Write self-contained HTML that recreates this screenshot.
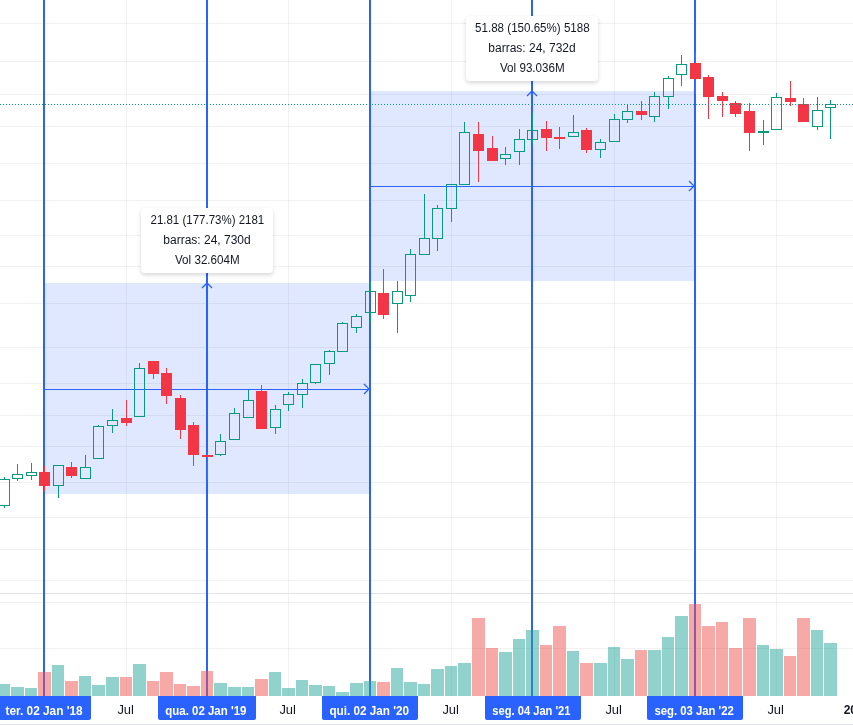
<!DOCTYPE html>
<html><head><meta charset="utf-8"><title>chart</title>
<style>
html,body{margin:0;padding:0;background:#fff;}
body{width:853px;height:725px;position:relative;overflow:hidden;font-family:"Liberation Sans",sans-serif;color:#131722;}
.tip{position:absolute;width:132px;height:65px;background:#fff;border-radius:4px;box-shadow:0 2px 4px rgba(0,0,0,0.16);font-size:12px;will-change:transform;}
.tip div{position:absolute;left:0;width:132px;text-align:center;height:20px;line-height:20px;white-space:nowrap;}
.tip span{display:inline-block;transform-origin:50% 50%;}
.tl{position:absolute;top:696px;height:24px;background:#2962ff;color:#fff;font-weight:bold;font-size:12px;line-height:31px;text-align:center;border-radius:0 0 2px 2px;white-space:nowrap;will-change:transform;}
.tl span{display:inline-block;}
.tx{position:absolute;top:696px;height:24px;font-size:12px;line-height:29px;width:60px;text-align:center;white-space:nowrap;will-change:transform;}
.tx span{display:inline-block;}
</style></head><body>
<svg width="853" height="725" viewBox="0 0 853 725" shape-rendering="crispEdges" style="position:absolute;left:0;top:0">
<rect x="0" y="23" width="853" height="1" fill="rgba(42,46,57,0.065)"/>
<rect x="0" y="61" width="853" height="1" fill="rgba(42,46,57,0.065)"/>
<rect x="0" y="94" width="853" height="1" fill="rgba(42,46,57,0.065)"/>
<rect x="0" y="126" width="853" height="1" fill="rgba(42,46,57,0.065)"/>
<rect x="0" y="163" width="853" height="1" fill="rgba(42,46,57,0.065)"/>
<rect x="0" y="200" width="853" height="1" fill="rgba(42,46,57,0.065)"/>
<rect x="0" y="235" width="853" height="1" fill="rgba(42,46,57,0.065)"/>
<rect x="0" y="266" width="853" height="1" fill="rgba(42,46,57,0.065)"/>
<rect x="0" y="303" width="853" height="1" fill="rgba(42,46,57,0.065)"/>
<rect x="0" y="347" width="853" height="1" fill="rgba(42,46,57,0.065)"/>
<rect x="0" y="383" width="853" height="1" fill="rgba(42,46,57,0.065)"/>
<rect x="0" y="415" width="853" height="1" fill="rgba(42,46,57,0.065)"/>
<rect x="0" y="446" width="853" height="1" fill="rgba(42,46,57,0.065)"/>
<rect x="0" y="482" width="853" height="1" fill="rgba(42,46,57,0.065)"/>
<rect x="0" y="517" width="853" height="1" fill="rgba(42,46,57,0.065)"/>
<rect x="0" y="549" width="853" height="1" fill="rgba(42,46,57,0.065)"/>
<rect x="0" y="580" width="853" height="1" fill="rgba(42,46,57,0.065)"/>
<rect x="0" y="602" width="853" height="1" fill="rgba(42,46,57,0.065)"/>
<rect x="0" y="648" width="853" height="1" fill="rgba(42,46,57,0.065)"/>
<rect x="126" y="0" width="1" height="593" fill="rgba(42,46,57,0.065)"/>
<rect x="126" y="594" width="1" height="102" fill="rgba(42,46,57,0.065)"/>
<rect x="288" y="0" width="1" height="593" fill="rgba(42,46,57,0.065)"/>
<rect x="288" y="594" width="1" height="102" fill="rgba(42,46,57,0.065)"/>
<rect x="451" y="0" width="1" height="593" fill="rgba(42,46,57,0.065)"/>
<rect x="451" y="594" width="1" height="102" fill="rgba(42,46,57,0.065)"/>
<rect x="614" y="0" width="1" height="593" fill="rgba(42,46,57,0.065)"/>
<rect x="614" y="594" width="1" height="102" fill="rgba(42,46,57,0.065)"/>
<rect x="776" y="0" width="1" height="593" fill="rgba(42,46,57,0.065)"/>
<rect x="776" y="594" width="1" height="102" fill="rgba(42,46,57,0.065)"/>
<rect x="0" y="593" width="853" height="1" fill="#e0e3eb"/>
<rect x="45" y="283" width="324" height="211" fill="rgba(41,98,255,0.15)"/>
<rect x="371" y="91" width="323" height="190" fill="rgba(41,98,255,0.15)"/>
<rect x="43" y="0" width="2" height="696" fill="#2962ff"/>
<rect x="206" y="0" width="2" height="696" fill="#2962ff"/>
<rect x="369" y="0" width="2" height="696" fill="#2962ff"/>
<rect x="531" y="0" width="2" height="696" fill="#2962ff"/>
<rect x="694" y="0" width="2" height="696" fill="#2962ff"/>
<rect x="45" y="389" width="324" height="1" fill="#2962ff"/>
<rect x="371" y="186" width="323" height="1" fill="#2962ff"/>
<g shape-rendering="geometricPrecision" stroke="#2962ff" stroke-width="1.25" fill="none">
<path d="M364 384 L369 389 L364 394"/>
<path d="M689 181 L694 186 L689 191"/>
<path d="M202 288 L207 283 L212 288"/>
<path d="M527 96 L532 91 L537 96"/>
</g>
<rect x="4" y="477" width="1" height="2" fill="#089981"/>
<rect x="4" y="506" width="1" height="2" fill="#089981"/>
<path fill="#089981" fill-rule="evenodd" d="M-1 479h11v27h-11z M0 480h9v25h-9z"/>
<rect x="17" y="464" width="1" height="10" fill="#089981"/>
<rect x="17" y="479" width="1" height="2" fill="#089981"/>
<path fill="#089981" fill-rule="evenodd" d="M12 474h11v5h-11z M13 475h9v3h-9z"/>
<rect x="31" y="463" width="1" height="9" fill="#089981"/>
<rect x="31" y="476" width="1" height="4" fill="#089981"/>
<path fill="#089981" fill-rule="evenodd" d="M26 472h11v4h-11z M27 473h9v2h-9z"/>
<rect x="44" y="466" width="1" height="25" fill="#f23645"/>
<rect x="39" y="472" width="11" height="14" fill="#f23645"/>
<rect x="58" y="486" width="1" height="12" fill="#089981"/>
<path fill="#089981" fill-rule="evenodd" d="M53 465h11v21h-11z M54 466h9v19h-9z"/>
<rect x="71" y="462" width="1" height="16" fill="#f23645"/>
<rect x="66" y="467" width="11" height="9" fill="#f23645"/>
<rect x="85" y="455" width="1" height="12" fill="#089981"/>
<path fill="#089981" fill-rule="evenodd" d="M80 467h11v12h-11z M81 468h9v10h-9z"/>
<rect x="98" y="425" width="1" height="1" fill="#089981"/>
<path fill="#089981" fill-rule="evenodd" d="M93 426h11v33h-11z M94 427h9v31h-9z"/>
<rect x="112" y="409" width="1" height="11" fill="#089981"/>
<rect x="112" y="426" width="1" height="7" fill="#089981"/>
<path fill="#089981" fill-rule="evenodd" d="M107 420h11v6h-11z M108 421h9v4h-9z"/>
<rect x="126" y="400" width="1" height="26" fill="#f23645"/>
<rect x="121" y="418" width="11" height="5" fill="#f23645"/>
<rect x="139" y="363" width="1" height="5" fill="#089981"/>
<path fill="#089981" fill-rule="evenodd" d="M134 368h11v49h-11z M135 369h9v47h-9z"/>
<rect x="153" y="361" width="1" height="18" fill="#f23645"/>
<rect x="148" y="361" width="11" height="13" fill="#f23645"/>
<rect x="166" y="368" width="1" height="36" fill="#f23645"/>
<rect x="161" y="373" width="11" height="23" fill="#f23645"/>
<rect x="180" y="395" width="1" height="44" fill="#f23645"/>
<rect x="175" y="398" width="11" height="32" fill="#f23645"/>
<rect x="193" y="422" width="1" height="44" fill="#f23645"/>
<rect x="188" y="425" width="11" height="30" fill="#f23645"/>
<rect x="207" y="453" width="1" height="27" fill="#f23645"/>
<rect x="202" y="455" width="11" height="2" fill="#f23645"/>
<rect x="220" y="434" width="1" height="7" fill="#089981"/>
<rect x="220" y="455" width="1" height="1" fill="#089981"/>
<path fill="#089981" fill-rule="evenodd" d="M215 441h11v14h-11z M216 442h9v12h-9z"/>
<rect x="234" y="408" width="1" height="5" fill="#089981"/>
<path fill="#089981" fill-rule="evenodd" d="M229 413h11v27h-11z M230 414h9v25h-9z"/>
<rect x="248" y="390" width="1" height="10" fill="#089981"/>
<path fill="#089981" fill-rule="evenodd" d="M243 400h11v18h-11z M244 401h9v16h-9z"/>
<rect x="261" y="385" width="1" height="44" fill="#f23645"/>
<rect x="256" y="391" width="11" height="38" fill="#f23645"/>
<rect x="275" y="405" width="1" height="4" fill="#089981"/>
<rect x="275" y="428" width="1" height="6" fill="#089981"/>
<path fill="#089981" fill-rule="evenodd" d="M270 409h11v19h-11z M271 410h9v17h-9z"/>
<rect x="288" y="392" width="1" height="2" fill="#089981"/>
<rect x="288" y="405" width="1" height="6" fill="#089981"/>
<path fill="#089981" fill-rule="evenodd" d="M283 394h11v11h-11z M284 395h9v9h-9z"/>
<rect x="302" y="379" width="1" height="4" fill="#089981"/>
<rect x="302" y="395" width="1" height="13" fill="#089981"/>
<path fill="#089981" fill-rule="evenodd" d="M297 383h11v12h-11z M298 384h9v10h-9z"/>
<rect x="315" y="383" width="1" height="1" fill="#089981"/>
<path fill="#089981" fill-rule="evenodd" d="M310 364h11v19h-11z M311 365h9v17h-9z"/>
<rect x="329" y="350" width="1" height="1" fill="#089981"/>
<rect x="329" y="364" width="1" height="11" fill="#089981"/>
<path fill="#089981" fill-rule="evenodd" d="M324 351h11v13h-11z M325 352h9v11h-9z"/>
<rect x="342" y="322" width="1" height="1" fill="#089981"/>
<path fill="#089981" fill-rule="evenodd" d="M337 323h11v29h-11z M338 324h9v27h-9z"/>
<rect x="356" y="314" width="1" height="2" fill="#089981"/>
<rect x="356" y="328" width="1" height="5" fill="#089981"/>
<path fill="#089981" fill-rule="evenodd" d="M351 316h11v12h-11z M352 317h9v10h-9z"/>
<rect x="370" y="282" width="1" height="9" fill="#089981"/>
<rect x="370" y="313" width="1" height="10" fill="#089981"/>
<path fill="#089981" fill-rule="evenodd" d="M365 291h11v22h-11z M366 292h9v20h-9z"/>
<rect x="383" y="269" width="1" height="50" fill="#f23645"/>
<rect x="378" y="293" width="11" height="22" fill="#f23645"/>
<rect x="397" y="281" width="1" height="10" fill="#089981"/>
<rect x="397" y="304" width="1" height="29" fill="#089981"/>
<path fill="#089981" fill-rule="evenodd" d="M392 291h11v13h-11z M393 292h9v11h-9z"/>
<rect x="410" y="249" width="1" height="5" fill="#089981"/>
<rect x="410" y="296" width="1" height="6" fill="#089981"/>
<path fill="#089981" fill-rule="evenodd" d="M405 254h11v42h-11z M406 255h9v40h-9z"/>
<rect x="424" y="194" width="1" height="44" fill="#089981"/>
<path fill="#089981" fill-rule="evenodd" d="M419 238h11v17h-11z M420 239h9v15h-9z"/>
<rect x="437" y="205" width="1" height="3" fill="#089981"/>
<rect x="437" y="239" width="1" height="12" fill="#089981"/>
<path fill="#089981" fill-rule="evenodd" d="M432 208h11v31h-11z M433 209h9v29h-9z"/>
<rect x="451" y="209" width="1" height="13" fill="#089981"/>
<path fill="#089981" fill-rule="evenodd" d="M446 184h11v25h-11z M447 185h9v23h-9z"/>
<rect x="464" y="122" width="1" height="10" fill="#089981"/>
<path fill="#089981" fill-rule="evenodd" d="M459 132h11v53h-11z M460 133h9v51h-9z"/>
<rect x="478" y="122" width="1" height="60" fill="#f23645"/>
<rect x="473" y="134" width="11" height="17" fill="#f23645"/>
<rect x="492" y="136" width="1" height="25" fill="#f23645"/>
<rect x="487" y="148" width="11" height="13" fill="#f23645"/>
<rect x="505" y="147" width="1" height="7" fill="#089981"/>
<rect x="505" y="159" width="1" height="6" fill="#089981"/>
<path fill="#089981" fill-rule="evenodd" d="M500 154h11v5h-11z M501 155h9v3h-9z"/>
<rect x="519" y="129" width="1" height="10" fill="#089981"/>
<rect x="519" y="152" width="1" height="13" fill="#089981"/>
<path fill="#089981" fill-rule="evenodd" d="M514 139h11v13h-11z M515 140h9v11h-9z"/>
<rect x="532" y="113" width="1" height="17" fill="#089981"/>
<rect x="532" y="140" width="1" height="5" fill="#089981"/>
<path fill="#089981" fill-rule="evenodd" d="M527 130h11v10h-11z M528 131h9v8h-9z"/>
<rect x="546" y="121" width="1" height="30" fill="#f23645"/>
<rect x="541" y="129" width="11" height="9" fill="#f23645"/>
<rect x="559" y="127" width="1" height="22" fill="#f23645"/>
<rect x="554" y="137" width="11" height="2" fill="#f23645"/>
<rect x="573" y="115" width="1" height="17" fill="#089981"/>
<path fill="#089981" fill-rule="evenodd" d="M568 132h11v5h-11z M569 133h9v3h-9z"/>
<rect x="586" y="128" width="1" height="25" fill="#f23645"/>
<rect x="581" y="130" width="11" height="20" fill="#f23645"/>
<rect x="600" y="139" width="1" height="3" fill="#089981"/>
<rect x="600" y="150" width="1" height="8" fill="#089981"/>
<path fill="#089981" fill-rule="evenodd" d="M595 142h11v8h-11z M596 143h9v6h-9z"/>
<rect x="614" y="114" width="1" height="5" fill="#089981"/>
<path fill="#089981" fill-rule="evenodd" d="M609 119h11v23h-11z M610 120h9v21h-9z"/>
<rect x="627" y="104" width="1" height="7" fill="#089981"/>
<rect x="627" y="120" width="1" height="3" fill="#089981"/>
<path fill="#089981" fill-rule="evenodd" d="M622 111h11v9h-11z M623 112h9v7h-9z"/>
<rect x="641" y="101" width="1" height="19" fill="#f23645"/>
<rect x="636" y="111" width="11" height="4" fill="#f23645"/>
<rect x="654" y="92" width="1" height="4" fill="#089981"/>
<rect x="654" y="117" width="1" height="5" fill="#089981"/>
<path fill="#089981" fill-rule="evenodd" d="M649 96h11v21h-11z M650 97h9v19h-9z"/>
<rect x="668" y="76" width="1" height="2" fill="#089981"/>
<rect x="668" y="97" width="1" height="12" fill="#089981"/>
<path fill="#089981" fill-rule="evenodd" d="M663 78h11v19h-11z M664 79h9v17h-9z"/>
<rect x="681" y="55" width="1" height="9" fill="#089981"/>
<rect x="681" y="75" width="1" height="11" fill="#089981"/>
<path fill="#089981" fill-rule="evenodd" d="M676 64h11v11h-11z M677 65h9v9h-9z"/>
<rect x="695" y="51" width="1" height="43" fill="#f23645"/>
<rect x="690" y="63" width="11" height="16" fill="#f23645"/>
<rect x="708" y="75" width="1" height="44" fill="#f23645"/>
<rect x="703" y="77" width="11" height="20" fill="#f23645"/>
<rect x="722" y="92" width="1" height="25" fill="#f23645"/>
<rect x="717" y="96" width="11" height="5" fill="#f23645"/>
<rect x="735" y="101" width="1" height="16" fill="#f23645"/>
<rect x="730" y="103" width="11" height="11" fill="#f23645"/>
<rect x="749" y="103" width="1" height="48" fill="#f23645"/>
<rect x="744" y="111" width="11" height="22" fill="#f23645"/>
<rect x="763" y="120" width="1" height="25" fill="#089981"/>
<rect x="758" y="131" width="11" height="2" fill="#089981"/>
<rect x="776" y="93" width="1" height="4" fill="#089981"/>
<path fill="#089981" fill-rule="evenodd" d="M771 97h11v33h-11z M772 98h9v31h-9z"/>
<rect x="790" y="81" width="1" height="25" fill="#f23645"/>
<rect x="785" y="98" width="11" height="4" fill="#f23645"/>
<rect x="803" y="98" width="1" height="24" fill="#f23645"/>
<rect x="798" y="104" width="11" height="18" fill="#f23645"/>
<rect x="817" y="97" width="1" height="13" fill="#089981"/>
<rect x="817" y="127" width="1" height="3" fill="#089981"/>
<path fill="#089981" fill-rule="evenodd" d="M812 110h11v17h-11z M813 111h9v15h-9z"/>
<rect x="830" y="100" width="1" height="4" fill="#089981"/>
<rect x="830" y="108" width="1" height="31" fill="#089981"/>
<path fill="#089981" fill-rule="evenodd" d="M825 104h11v4h-11z M826 105h9v2h-9z"/>
<rect x="-2" y="684" width="12" height="12" fill="rgba(38,166,154,0.5)"/>
<rect x="11" y="687" width="13" height="9" fill="rgba(38,166,154,0.5)"/>
<rect x="25" y="688" width="12" height="8" fill="rgba(38,166,154,0.5)"/>
<rect x="38" y="672" width="13" height="24" fill="rgba(239,83,80,0.5)"/>
<rect x="52" y="665" width="12" height="31" fill="rgba(38,166,154,0.5)"/>
<rect x="65" y="681" width="13" height="15" fill="rgba(239,83,80,0.5)"/>
<rect x="79" y="676" width="12" height="20" fill="rgba(38,166,154,0.5)"/>
<rect x="92" y="685" width="13" height="11" fill="rgba(38,166,154,0.5)"/>
<rect x="106" y="677" width="13" height="19" fill="rgba(38,166,154,0.5)"/>
<rect x="120" y="677" width="12" height="19" fill="rgba(239,83,80,0.5)"/>
<rect x="133" y="664" width="13" height="32" fill="rgba(38,166,154,0.5)"/>
<rect x="147" y="681" width="12" height="15" fill="rgba(239,83,80,0.5)"/>
<rect x="160" y="672" width="13" height="24" fill="rgba(239,83,80,0.5)"/>
<rect x="174" y="684" width="12" height="12" fill="rgba(239,83,80,0.5)"/>
<rect x="187" y="686" width="13" height="10" fill="rgba(239,83,80,0.5)"/>
<rect x="201" y="671" width="12" height="25" fill="rgba(239,83,80,0.5)"/>
<rect x="214" y="683" width="13" height="13" fill="rgba(38,166,154,0.5)"/>
<rect x="228" y="687" width="13" height="9" fill="rgba(38,166,154,0.5)"/>
<rect x="242" y="687" width="12" height="9" fill="rgba(38,166,154,0.5)"/>
<rect x="255" y="679" width="13" height="17" fill="rgba(239,83,80,0.5)"/>
<rect x="269" y="672" width="12" height="24" fill="rgba(38,166,154,0.5)"/>
<rect x="282" y="688" width="13" height="8" fill="rgba(38,166,154,0.5)"/>
<rect x="296" y="680" width="12" height="16" fill="rgba(38,166,154,0.5)"/>
<rect x="309" y="685" width="13" height="11" fill="rgba(38,166,154,0.5)"/>
<rect x="323" y="686" width="12" height="10" fill="rgba(38,166,154,0.5)"/>
<rect x="336" y="692" width="13" height="4" fill="rgba(38,166,154,0.5)"/>
<rect x="350" y="683" width="13" height="13" fill="rgba(38,166,154,0.5)"/>
<rect x="364" y="681" width="12" height="15" fill="rgba(38,166,154,0.5)"/>
<rect x="377" y="682" width="13" height="14" fill="rgba(239,83,80,0.5)"/>
<rect x="391" y="668" width="12" height="28" fill="rgba(38,166,154,0.5)"/>
<rect x="404" y="682" width="13" height="14" fill="rgba(38,166,154,0.5)"/>
<rect x="418" y="684" width="12" height="12" fill="rgba(38,166,154,0.5)"/>
<rect x="431" y="669" width="13" height="27" fill="rgba(38,166,154,0.5)"/>
<rect x="445" y="666" width="12" height="30" fill="rgba(38,166,154,0.5)"/>
<rect x="458" y="663" width="13" height="33" fill="rgba(38,166,154,0.5)"/>
<rect x="472" y="618" width="13" height="78" fill="rgba(239,83,80,0.5)"/>
<rect x="486" y="648" width="12" height="48" fill="rgba(239,83,80,0.5)"/>
<rect x="499" y="652" width="13" height="44" fill="rgba(38,166,154,0.5)"/>
<rect x="513" y="639" width="12" height="57" fill="rgba(38,166,154,0.5)"/>
<rect x="526" y="630" width="13" height="66" fill="rgba(38,166,154,0.5)"/>
<rect x="540" y="645" width="12" height="51" fill="rgba(239,83,80,0.5)"/>
<rect x="553" y="626" width="13" height="70" fill="rgba(239,83,80,0.5)"/>
<rect x="567" y="651" width="12" height="45" fill="rgba(38,166,154,0.5)"/>
<rect x="580" y="663" width="13" height="33" fill="rgba(239,83,80,0.5)"/>
<rect x="594" y="663" width="13" height="33" fill="rgba(38,166,154,0.5)"/>
<rect x="608" y="647" width="12" height="49" fill="rgba(38,166,154,0.5)"/>
<rect x="621" y="659" width="13" height="37" fill="rgba(38,166,154,0.5)"/>
<rect x="635" y="650" width="12" height="46" fill="rgba(239,83,80,0.5)"/>
<rect x="648" y="650" width="13" height="46" fill="rgba(38,166,154,0.5)"/>
<rect x="662" y="637" width="12" height="59" fill="rgba(38,166,154,0.5)"/>
<rect x="675" y="616" width="13" height="80" fill="rgba(38,166,154,0.5)"/>
<rect x="689" y="604" width="12" height="92" fill="rgba(239,83,80,0.5)"/>
<rect x="702" y="626" width="13" height="70" fill="rgba(239,83,80,0.5)"/>
<rect x="716" y="622" width="12" height="74" fill="rgba(239,83,80,0.5)"/>
<rect x="729" y="648" width="13" height="48" fill="rgba(239,83,80,0.5)"/>
<rect x="743" y="618" width="13" height="78" fill="rgba(239,83,80,0.5)"/>
<rect x="757" y="645" width="12" height="51" fill="rgba(38,166,154,0.5)"/>
<rect x="770" y="649" width="13" height="47" fill="rgba(38,166,154,0.5)"/>
<rect x="784" y="656" width="12" height="40" fill="rgba(239,83,80,0.5)"/>
<rect x="797" y="618" width="13" height="78" fill="rgba(239,83,80,0.5)"/>
<rect x="811" y="630" width="12" height="66" fill="rgba(38,166,154,0.5)"/>
<rect x="824" y="643" width="13" height="53" fill="rgba(38,166,154,0.5)"/>
<g fill="#089981">
<path d="M0 104h1v1h-1zM3 104h1v1h-1zM6 104h1v1h-1zM9 104h1v1h-1zM12 104h1v1h-1zM15 104h1v1h-1zM18 104h1v1h-1zM21 104h1v1h-1zM24 104h1v1h-1zM27 104h1v1h-1zM30 104h1v1h-1zM33 104h1v1h-1zM36 104h1v1h-1zM39 104h1v1h-1zM42 104h1v1h-1zM45 104h1v1h-1zM48 104h1v1h-1zM51 104h1v1h-1zM54 104h1v1h-1zM57 104h1v1h-1zM60 104h1v1h-1zM63 104h1v1h-1zM66 104h1v1h-1zM69 104h1v1h-1zM72 104h1v1h-1zM75 104h1v1h-1zM78 104h1v1h-1zM81 104h1v1h-1zM84 104h1v1h-1zM87 104h1v1h-1zM90 104h1v1h-1zM93 104h1v1h-1zM96 104h1v1h-1zM99 104h1v1h-1zM102 104h1v1h-1zM105 104h1v1h-1zM108 104h1v1h-1zM111 104h1v1h-1zM114 104h1v1h-1zM117 104h1v1h-1zM120 104h1v1h-1zM123 104h1v1h-1zM126 104h1v1h-1zM129 104h1v1h-1zM132 104h1v1h-1zM135 104h1v1h-1zM138 104h1v1h-1zM141 104h1v1h-1zM144 104h1v1h-1zM147 104h1v1h-1zM150 104h1v1h-1zM153 104h1v1h-1zM156 104h1v1h-1zM159 104h1v1h-1zM162 104h1v1h-1zM165 104h1v1h-1zM168 104h1v1h-1zM171 104h1v1h-1zM174 104h1v1h-1zM177 104h1v1h-1zM180 104h1v1h-1zM183 104h1v1h-1zM186 104h1v1h-1zM189 104h1v1h-1zM192 104h1v1h-1zM195 104h1v1h-1zM198 104h1v1h-1zM201 104h1v1h-1zM204 104h1v1h-1zM207 104h1v1h-1zM210 104h1v1h-1zM213 104h1v1h-1zM216 104h1v1h-1zM219 104h1v1h-1zM222 104h1v1h-1zM225 104h1v1h-1zM228 104h1v1h-1zM231 104h1v1h-1zM234 104h1v1h-1zM237 104h1v1h-1zM240 104h1v1h-1zM243 104h1v1h-1zM246 104h1v1h-1zM249 104h1v1h-1zM252 104h1v1h-1zM255 104h1v1h-1zM258 104h1v1h-1zM261 104h1v1h-1zM264 104h1v1h-1zM267 104h1v1h-1zM270 104h1v1h-1zM273 104h1v1h-1zM276 104h1v1h-1zM279 104h1v1h-1zM282 104h1v1h-1zM285 104h1v1h-1zM288 104h1v1h-1zM291 104h1v1h-1zM294 104h1v1h-1zM297 104h1v1h-1zM300 104h1v1h-1zM303 104h1v1h-1zM306 104h1v1h-1zM309 104h1v1h-1zM312 104h1v1h-1zM315 104h1v1h-1zM318 104h1v1h-1zM321 104h1v1h-1zM324 104h1v1h-1zM327 104h1v1h-1zM330 104h1v1h-1zM333 104h1v1h-1zM336 104h1v1h-1zM339 104h1v1h-1zM342 104h1v1h-1zM345 104h1v1h-1zM348 104h1v1h-1zM351 104h1v1h-1zM354 104h1v1h-1zM357 104h1v1h-1zM360 104h1v1h-1zM363 104h1v1h-1zM366 104h1v1h-1zM369 104h1v1h-1zM372 104h1v1h-1zM375 104h1v1h-1zM378 104h1v1h-1zM381 104h1v1h-1zM384 104h1v1h-1zM387 104h1v1h-1zM390 104h1v1h-1zM393 104h1v1h-1zM396 104h1v1h-1zM399 104h1v1h-1zM402 104h1v1h-1zM405 104h1v1h-1zM408 104h1v1h-1zM411 104h1v1h-1zM414 104h1v1h-1zM417 104h1v1h-1zM420 104h1v1h-1zM423 104h1v1h-1zM426 104h1v1h-1zM429 104h1v1h-1zM432 104h1v1h-1zM435 104h1v1h-1zM438 104h1v1h-1zM441 104h1v1h-1zM444 104h1v1h-1zM447 104h1v1h-1zM450 104h1v1h-1zM453 104h1v1h-1zM456 104h1v1h-1zM459 104h1v1h-1zM462 104h1v1h-1zM465 104h1v1h-1zM468 104h1v1h-1zM471 104h1v1h-1zM474 104h1v1h-1zM477 104h1v1h-1zM480 104h1v1h-1zM483 104h1v1h-1zM486 104h1v1h-1zM489 104h1v1h-1zM492 104h1v1h-1zM495 104h1v1h-1zM498 104h1v1h-1zM501 104h1v1h-1zM504 104h1v1h-1zM507 104h1v1h-1zM510 104h1v1h-1zM513 104h1v1h-1zM516 104h1v1h-1zM519 104h1v1h-1zM522 104h1v1h-1zM525 104h1v1h-1zM528 104h1v1h-1zM531 104h1v1h-1zM534 104h1v1h-1zM537 104h1v1h-1zM540 104h1v1h-1zM543 104h1v1h-1zM546 104h1v1h-1zM549 104h1v1h-1zM552 104h1v1h-1zM555 104h1v1h-1zM558 104h1v1h-1zM561 104h1v1h-1zM564 104h1v1h-1zM567 104h1v1h-1zM570 104h1v1h-1zM573 104h1v1h-1zM576 104h1v1h-1zM579 104h1v1h-1zM582 104h1v1h-1zM585 104h1v1h-1zM588 104h1v1h-1zM591 104h1v1h-1zM594 104h1v1h-1zM597 104h1v1h-1zM600 104h1v1h-1zM603 104h1v1h-1zM606 104h1v1h-1zM609 104h1v1h-1zM612 104h1v1h-1zM615 104h1v1h-1zM618 104h1v1h-1zM621 104h1v1h-1zM624 104h1v1h-1zM627 104h1v1h-1zM630 104h1v1h-1zM633 104h1v1h-1zM636 104h1v1h-1zM639 104h1v1h-1zM642 104h1v1h-1zM645 104h1v1h-1zM648 104h1v1h-1zM651 104h1v1h-1zM654 104h1v1h-1zM657 104h1v1h-1zM660 104h1v1h-1zM663 104h1v1h-1zM666 104h1v1h-1zM669 104h1v1h-1zM672 104h1v1h-1zM675 104h1v1h-1zM678 104h1v1h-1zM681 104h1v1h-1zM684 104h1v1h-1zM687 104h1v1h-1zM690 104h1v1h-1zM693 104h1v1h-1zM696 104h1v1h-1zM699 104h1v1h-1zM702 104h1v1h-1zM705 104h1v1h-1zM708 104h1v1h-1zM711 104h1v1h-1zM714 104h1v1h-1zM717 104h1v1h-1zM720 104h1v1h-1zM723 104h1v1h-1zM726 104h1v1h-1zM729 104h1v1h-1zM732 104h1v1h-1zM735 104h1v1h-1zM738 104h1v1h-1zM741 104h1v1h-1zM744 104h1v1h-1zM747 104h1v1h-1zM750 104h1v1h-1zM753 104h1v1h-1zM756 104h1v1h-1zM759 104h1v1h-1zM762 104h1v1h-1zM765 104h1v1h-1zM768 104h1v1h-1zM771 104h1v1h-1zM774 104h1v1h-1zM777 104h1v1h-1zM780 104h1v1h-1zM783 104h1v1h-1zM786 104h1v1h-1zM789 104h1v1h-1zM792 104h1v1h-1zM795 104h1v1h-1zM798 104h1v1h-1zM801 104h1v1h-1zM804 104h1v1h-1zM807 104h1v1h-1zM810 104h1v1h-1zM813 104h1v1h-1zM816 104h1v1h-1zM819 104h1v1h-1zM822 104h1v1h-1zM825 104h1v1h-1zM828 104h1v1h-1zM831 104h1v1h-1zM834 104h1v1h-1zM837 104h1v1h-1zM840 104h1v1h-1zM843 104h1v1h-1zM846 104h1v1h-1zM849 104h1v1h-1zM852 104h1v1h-1z"/>
</g>
<rect x="0" y="724" width="853" height="1" fill="#e0e3eb"/>
</svg>
<div class="tip" style="left:141px;top:208px"><div style="top:2px"><span id="t11" style="transform:scaleX(0.958)">21.81 (177.73%) 2181</span></div><div style="top:22px"><span id="t12">barras: 24, 730d</span></div><div style="top:42px"><span id="t13" style="transform:scaleX(0.97)">Vol 32.604M</span></div></div>
<div class="tip" style="left:466px;top:16px"><div style="top:2px"><span id="t21" style="transform:scaleX(0.965)">51.88 (150.65%) 5188</span></div><div style="top:22px"><span id="t22">barras: 24, 732d</span></div><div style="top:42px"><span id="t23" style="transform:scaleX(0.97)">Vol 93.036M</span></div></div>
<div class="tl" style="left:-2px;width:93px"><span style="transform:scaleX(0.986)">ter. 02 Jan '18</span></div>
<div class="tl" style="left:158px;width:98px"><span style="transform:translateX(-1.6px) scaleX(0.955)">qua. 02 Jan '19</span></div>
<div class="tl" style="left:322px;width:96px"><span style="transform:translateX(-0.6px) scaleX(0.975)">qui. 02 Jan '20</span></div>
<div class="tl" style="left:485px;width:96px"><span style="transform:translateX(-1.7px) scaleX(0.928)">seg. 04 Jan '21</span></div>
<div class="tl" style="left:647px;width:96px"><span style="transform:translateX(-1px) scaleX(0.943)">seg. 03 Jan '22</span></div>
<div class="tx" style="left:96px"><span style="transform:scaleX(1.08)">Jul</span></div>
<div class="tx" style="left:258px"><span style="transform:scaleX(1.08)">Jul</span></div>
<div class="tx" style="left:421px"><span style="transform:scaleX(1.08)">Jul</span></div>
<div class="tx" style="left:584px"><span style="transform:scaleX(1.08)">Jul</span></div>
<div class="tx" style="left:746px"><span style="transform:scaleX(1.08)">Jul</span></div>
<div class="tx" style="left:827px;font-weight:bold"><span>2023</span></div>
</body></html>
